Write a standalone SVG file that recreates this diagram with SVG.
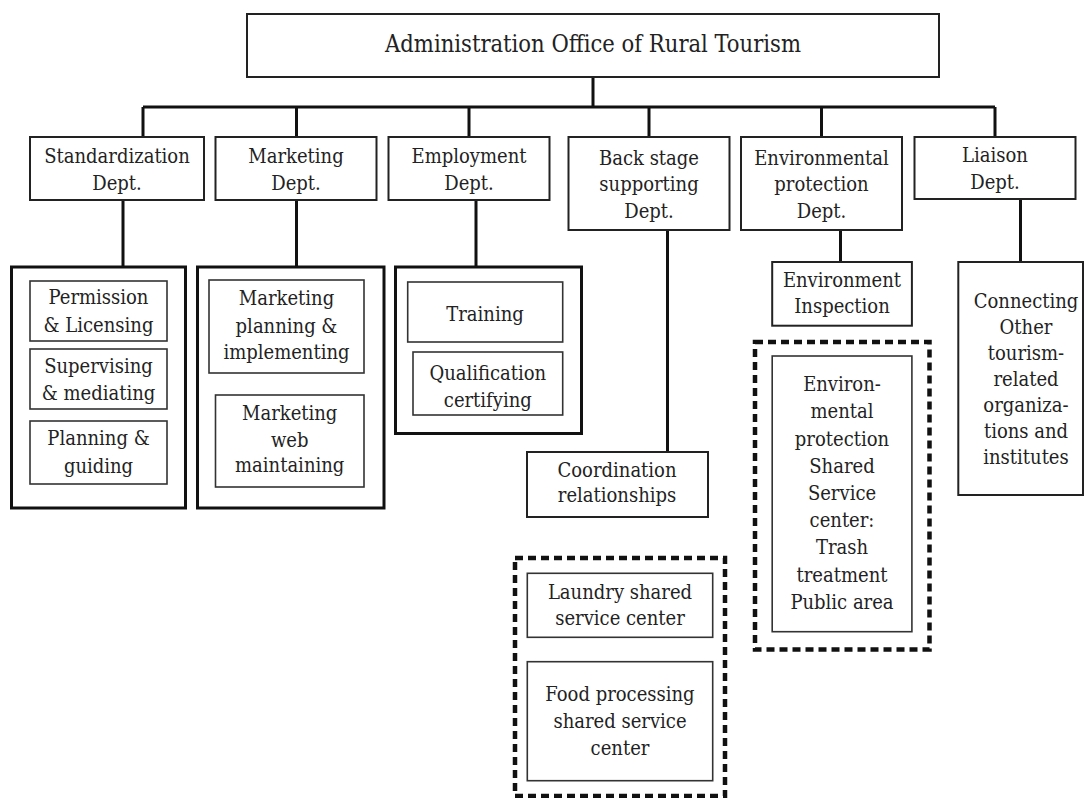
<svg xmlns="http://www.w3.org/2000/svg" width="1085" height="798" viewBox="0 0 1085 798">
<style>
text{font-family:'DejaVu Serif Condensed','DejaVu Serif',serif;font-stretch:condensed;font-size:20px;fill:#222;text-anchor:middle}
.title{font-size:23.5px}
.box{fill:#fff;stroke:#222;stroke-width:2}
.inner{fill:#fff;stroke:#333;stroke-width:1.6}
.group{fill:none;stroke:#111;stroke-width:3}
.dot{fill:none;stroke:#111;stroke-width:4.5;stroke-dasharray:8 5}
.conn{fill:none;stroke:#111;stroke-width:3}
</style>
<rect width="1085" height="798" fill="#fff"/>
<g id="connectors">
<path class="conn" d="M593 77V107M143 107H995M143 107V137M296.5 107V137M469 107V137M649 107V137M821.5 107V137M995 107V137"/>
<path class="conn" d="M123 200V267M296.5 200V267M476 200V267M667.5 230V452M840.5 230V262M1020.5 199V262"/>
</g>
<g id="admin">
<rect class="box" x="247" y="14" width="692" height="63"/>
<text class="title" x="593" y="52">Administration Office of Rural Tourism</text>
</g>
<g id="std-dept">
<rect class="box" x="30" y="137" width="174" height="63"/>
<text x="117" y="162.5">Standardization</text><text x="117" y="189.5">Dept.</text>
</g>
<g id="mkt-dept">
<rect class="box" x="215.5" y="137" width="161" height="63"/>
<text x="296" y="162.5">Marketing</text><text x="296" y="189.5">Dept.</text>
</g>
<g id="emp-dept">
<rect class="box" x="388.5" y="137" width="161" height="63"/>
<text x="469" y="162.5">Employment</text><text x="469" y="189.5">Dept.</text>
</g>
<g id="back-dept">
<rect class="box" x="568.5" y="137" width="161" height="93"/>
<text x="649" y="164.5">Back stage</text><text x="649" y="191.3">supporting</text><text x="649" y="218">Dept.</text>
</g>
<g id="env-dept">
<rect class="box" x="741" y="137" width="161" height="93"/>
<text x="821.5" y="164.5">Environmental</text><text x="821.5" y="191.3">protection</text><text x="821.5" y="218">Dept.</text>
</g>
<g id="liaison-dept">
<rect class="box" x="914.5" y="137" width="161" height="62"/>
<text x="995" y="162">Liaison</text><text x="995" y="189">Dept.</text>
</g>
<g id="std-group">
<rect class="group" x="11.5" y="267" width="174" height="241"/>
<rect class="inner" x="30" y="281" width="137" height="60"/>
<text x="98.5" y="304">Permission</text><text x="98.5" y="331.5">&amp; Licensing</text>
<rect class="inner" x="30" y="349" width="137" height="60"/>
<text x="98.5" y="373">Supervising</text><text x="98.5" y="400">&amp; mediating</text>
<rect class="inner" x="30" y="421" width="137" height="63"/>
<text x="98.5" y="445">Planning &amp;</text><text x="98.5" y="472.5">guiding</text>
</g>
<g id="mkt-group">
<rect class="group" x="197.5" y="267" width="186.5" height="241"/>
<rect class="inner" x="209" y="280" width="155" height="93"/>
<text x="286.5" y="305">Marketing</text><text x="286.5" y="332.5">planning &amp;</text><text x="286.5" y="359.3">implementing</text>
<rect class="inner" x="215.5" y="395" width="148.5" height="92"/>
<text x="289.7" y="420">Marketing</text><text x="289.7" y="446.7">web</text><text x="289.7" y="472.3">maintaining</text>
</g>
<g id="emp-group">
<rect class="group" x="395.5" y="267" width="186" height="166.5"/>
<rect class="inner" x="407.7" y="282" width="155" height="60"/>
<text x="485" y="320.7">Training</text>
<rect class="inner" x="413" y="352" width="149.7" height="63"/>
<text x="487.8" y="380">Qualification</text><text x="487.8" y="406.7">certifying</text>
</g>
<g id="coordination">
<rect class="box" x="527" y="452" width="181" height="65"/>
<text x="617" y="477">Coordination</text><text x="617" y="502">relationships</text>
</g>
<g id="shared-centers">
<rect class="dot" x="515" y="558" width="210" height="238"/>
<rect class="inner" x="527.3" y="573.3" width="185.4" height="64"/>
<text x="620" y="599.3">Laundry shared</text><text x="620" y="625">service center</text>
<rect class="inner" x="527.3" y="661.7" width="185.4" height="119"/>
<text x="620" y="701">Food processing</text><text x="620" y="728">shared service</text><text x="620" y="755">center</text>
</g>
<g id="env-inspection">
<rect class="box" x="772.2" y="262" width="139.7" height="63.7"/>
<text x="842" y="286.7">Environment</text><text x="842" y="313.3">Inspection</text>
</g>
<g id="env-shared">
<rect class="dot" x="755" y="342" width="174.5" height="307.5"/>
<rect class="inner" x="772.2" y="356" width="139.7" height="275.7"/>
<text x="842" y="391">Environ-</text><text x="842" y="418">mental</text><text x="842" y="445.5">protection</text><text x="842" y="472.7">Shared</text><text x="842" y="500">Service</text><text x="842" y="527">center:</text><text x="842" y="554">Trash</text><text x="842" y="581.5">treatment</text><text x="842" y="608.6">Public area</text>
</g>
<g id="connecting">
<rect class="box" x="958.3" y="262" width="124.7" height="233"/>
<text x="1026" y="308">Connecting</text><text x="1026" y="334">Other</text><text x="1026" y="360">tourism-</text><text x="1026" y="386">related</text><text x="1026" y="412">organiza-</text><text x="1026" y="438">tions and</text><text x="1026" y="464">institutes</text>
</g>
</svg>
